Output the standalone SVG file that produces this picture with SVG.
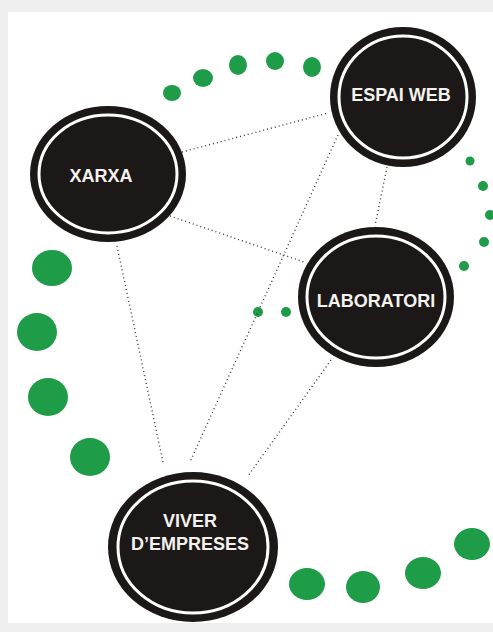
<svg xmlns="http://www.w3.org/2000/svg" width="493" height="632" viewBox="0 0 493 632">
<style>
.node{fill:#1c1817;}
.ring{fill:none;stroke:#ffffff;stroke-width:3;}
.lbl{font-family:"Liberation Sans",Arial,sans-serif;font-weight:bold;font-size:18px;fill:#f4f2ee;text-anchor:middle;}
.link{stroke:#3a3a3a;stroke-width:1.4;stroke-dasharray:1 3;fill:none;}
.dot{fill:#1f9c47;}
</style>
<rect x="0" y="0" width="493" height="632" fill="#efefef"/>
<rect x="8" y="12" width="485" height="611" fill="#ffffff"/>
<g id="dots">
<ellipse class="dot" cx="172" cy="93" rx="9" ry="8"/>
<ellipse class="dot" cx="203" cy="78" rx="10" ry="9"/>
<ellipse class="dot" cx="238" cy="65" rx="9" ry="10"/>
<ellipse class="dot" cx="275" cy="61" rx="9" ry="9"/>
<ellipse class="dot" cx="312" cy="67" rx="9" ry="10"/>
<circle class="dot" cx="470" cy="161" r="4.5"/>
<circle class="dot" cx="483" cy="186" r="5"/>
<circle class="dot" cx="490" cy="215" r="5"/>
<circle class="dot" cx="484" cy="242" r="5"/>
<circle class="dot" cx="464" cy="266" r="5"/>
<circle class="dot" cx="258" cy="312" r="5"/>
<circle class="dot" cx="286" cy="312" r="5"/>
<ellipse class="dot" cx="52" cy="268" rx="20" ry="18"/>
<ellipse class="dot" cx="37" cy="332" rx="20" ry="19"/>
<ellipse class="dot" cx="48" cy="397" rx="20" ry="19"/>
<ellipse class="dot" cx="90" cy="457" rx="20" ry="19"/>
<ellipse class="dot" cx="307" cy="584" rx="18" ry="16"/>
<ellipse class="dot" cx="363" cy="587" rx="17" ry="16"/>
<ellipse class="dot" cx="423" cy="573" rx="18" ry="16"/>
<ellipse class="dot" cx="472" cy="544" rx="18" ry="16"/>
</g>
<g id="connectors">
<line class="link" x1="182" y1="152" x2="328" y2="113"/>
<line class="link" x1="170" y1="216" x2="304" y2="262"/>
<line class="link" x1="338" y1="135" x2="190" y2="462"/>
<line class="link" x1="387" y1="167" x2="375" y2="226"/>
<line class="link" x1="117" y1="246" x2="163" y2="462"/>
<line class="link" x1="331" y1="360" x2="248" y2="476"/>
</g>
<g id="node-xarxa">
<ellipse class="node" cx="108" cy="174" rx="78" ry="68"/>
<ellipse class="ring" cx="108" cy="174" rx="69" ry="59"/>
<text class="lbl" x="101" y="182">XARXA</text>
</g>
<g id="node-espai-web">
<ellipse class="node" cx="403" cy="97" rx="73" ry="70"/>
<ellipse class="ring" cx="403" cy="97" rx="64" ry="61"/>
<text class="lbl" x="401" y="101">ESPAI WEB</text>
</g>
<g id="node-laboratori">
<ellipse class="node" cx="376" cy="297" rx="78" ry="70"/>
<ellipse class="ring" cx="376" cy="297" rx="69" ry="61"/>
<text class="lbl" x="376" y="307">LABORATORI</text>
</g>
<g id="node-viver">
<ellipse class="node" cx="193" cy="547" rx="85" ry="75"/>
<ellipse class="ring" cx="193" cy="547" rx="75" ry="66"/>
<text class="lbl" x="190" y="527">VIVER</text>
<text class="lbl" x="190" y="550">D’EMPRESES</text>
</g>
</svg>
